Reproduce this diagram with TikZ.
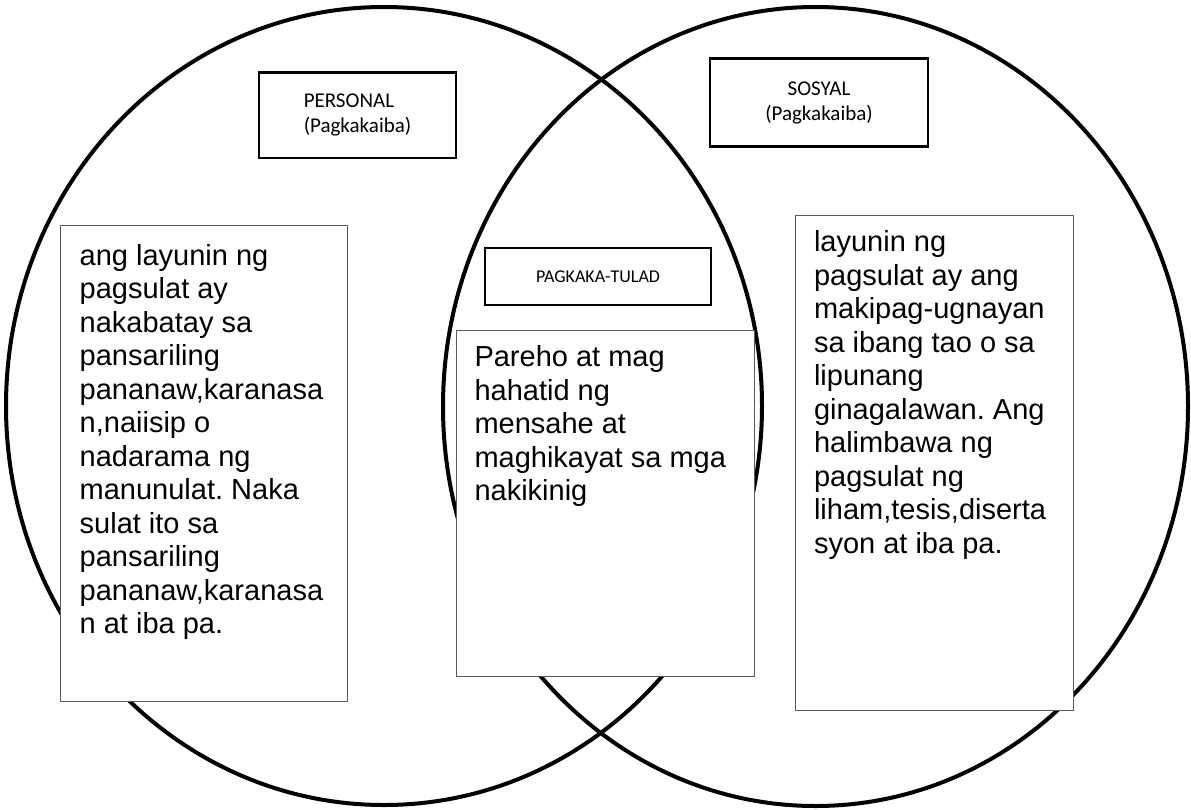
\documentclass[tikz,border=0pt]{standalone}
\usepackage{fontspec}
\setmainfont{Liberation Sans}
\newfontfamily\calibrifont{Carlito}
\frenchspacing

\tikzstyle{venn}=[draw,line width=4pt]
\tikzstyle{tag}=[draw,line width=2.5pt,fill=white,inner sep=0pt,font=\calibrifont\fontsize{21}{25}\selectfont]
\tikzstyle{panel}=[draw=black!65,line width=1pt,fill=white,anchor=north west,inner sep=0pt,outer sep=0pt]
\tikzstyle{body}=[anchor=north west,inner sep=0pt,outer sep=0pt,align=left,font=\fontsize{29}{33.5}\selectfont]

\begin{document}
\begin{tikzpicture}[x=1pt, y=-1pt]
		\useasboundingbox (0,0) rectangle (1191,809);
		\draw [venn] (384,406)     ellipse [x radius=378pt,   y radius=399pt];
		\draw [venn] (815.5,406.5) ellipse [x radius=372.5pt, y radius=399.5pt];

		\node [tag, minimum width=197pt, minimum height=85.5pt, align=left]   (personal) at (357.5,115)   {PERSONAL\\(Pagkakaiba)};
		\node [tag, minimum width=218pt, minimum height=88pt, align=center]   (sosyal)   at (819,102.5)   {SOSYAL\\(Pagkakaiba)};
		\node [tag, minimum width=225.7pt, minimum height=57pt, font=\calibrifont\fontsize{18}{22}\selectfont] (tulad) at (598,276.5) {PAGKAKA-TULAD};

		\node [panel, minimum width=287.5pt, minimum height=476pt] (leftbox)  at (60,225)    {};
		\node [panel, minimum width=297.2pt, minimum height=346pt] (midbox)   at (456.8,330) {};
		\node [panel, minimum width=278pt,   minimum height=495pt] (rightbox) at (795,215)   {};

		\node [body] (lefttext)  at (79.7,244.2) {ang layunin ng\\pagsulat ay\\nakabatay sa\\pansariling\\pananaw,karanasa\\n,naiisip o\\nadarama ng\\manunulat. Naka\\sulat ito sa\\pansariling\\pananaw,karanasa\\n at iba pa.};
		\node [body] (midtext)   at (474.5,345.9) {Pareho at mag\\hahatid ng\\mensahe at\\maghikayat sa mga\\nakikinig};
		\node [body] (righttext) at (814,230.9)  {layunin ng\\pagsulat ay ang\\makipag-ugnayan\\sa ibang tao o sa\\lipunang\\ginagalawan. Ang\\halimbawa ng\\pagsulat ng\\liham,tesis,diserta\\syon at iba pa.};
	\end{tikzpicture}
\end{document}
